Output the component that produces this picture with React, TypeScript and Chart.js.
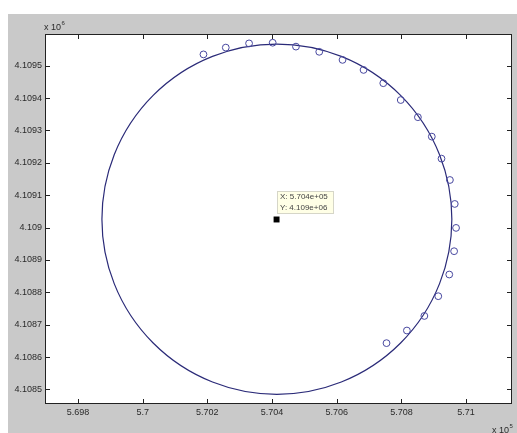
import React, { useEffect, useRef } from 'react';
import { Chart, registerables } from 'chart.js';

Chart.register(...registerables);

// Measured points (open circles)
const pointX = [570188, 570257, 570329, 570402, 570474, 570546, 570618, 570683, 570744, 570798, 570851, 570894, 570924, 570950, 570965, 570969, 570963, 570948, 570914, 570871, 570817, 570754];
const pointY = [4109535, 4109556, 4109569, 4109571, 4109559, 4109543, 4109518, 4109487, 4109446, 4109394, 4109341, 4109281, 4109213, 4109147, 4109073, 4108999, 4108927, 4108855, 4108788, 4108727, 4108682, 4108643];

// Fitted circle
const fitCenter = [570415, 4109026];
const fitRadius = 541;

// Data cursor
const cursorPoint = [570414, 4109025];
const cursorLabels = ['X: 5.704e+05', 'Y: 4.109e+06'];

// Axes
const xRange = [569698, 571142];
const yRange = [4108455, 4109598];
const xStep = 200;
const yStep = 100;
const xScaleFactor = 1e5;
const yScaleFactor = 1e6;
const xExponentLabel = ['x 10', '5'];
const yExponentLabel = ['x 10', '6'];

const FONT = "'Liberation Sans', Arial, sans-serif";
const TEXT = '#2a2a2a';

const matlabPlugin = {
  id: 'matlabLook',
  beforeDraw(chart: any) {
    const { ctx, width, height, chartArea: a } = chart;
    ctx.save();
    ctx.fillStyle = '#ffffff';
    ctx.fillRect(0, 0, width, height);
    ctx.fillStyle = '#c9c9c9';
    ctx.fillRect(8, 14, width - 8, height - 14);
    ctx.fillStyle = '#ffffff';
    ctx.fillRect(a.left, a.top, a.right - a.left, a.bottom - a.top);
    ctx.restore();
  },
  beforeDatasetsDraw(chart: any) {
    const { ctx, chartArea: a } = chart;
    const xs = chart.scales.x;
    const ys = chart.scales.y;
    const cx = xs.getPixelForValue(fitCenter[0]);
    const cy = ys.getPixelForValue(fitCenter[1]);
    const rx = Math.abs(xs.getPixelForValue(fitCenter[0] + fitRadius) - cx);
    const ry = Math.abs(ys.getPixelForValue(fitCenter[1] + fitRadius) - cy);
    ctx.save();
    ctx.beginPath();
    ctx.rect(a.left, a.top, a.right - a.left, a.bottom - a.top);
    ctx.clip();
    ctx.beginPath();
    ctx.ellipse(cx, cy, rx, ry, 0, 0, Math.PI * 2);
    ctx.strokeStyle = '#2a2a78';
    ctx.lineWidth = 1.2;
    ctx.stroke();
    ctx.restore();
  },
  afterDraw(chart: any) {
    const { ctx, chartArea: a } = chart;
    const xs = chart.scales.x;
    const ys = chart.scales.y;
    ctx.save();
    // box
    ctx.strokeStyle = '#222';
    ctx.lineWidth = 1;
    ctx.strokeRect(Math.round(a.left) + 0.5, Math.round(a.top) + 0.5, Math.round(a.right - a.left) - 1, Math.round(a.bottom - a.top) - 1);
    // inward ticks
    const tl = 5;
    ctx.beginPath();
    xs.ticks.forEach((t: any) => {
      const px = Math.round(xs.getPixelForValue(t.value)) + 0.5;
      ctx.moveTo(px, a.bottom);
      ctx.lineTo(px, a.bottom - tl);
      ctx.moveTo(px, a.top);
      ctx.lineTo(px, a.top + tl);
    });
    ys.ticks.forEach((t: any) => {
      const py = Math.round(ys.getPixelForValue(t.value)) + 0.5;
      ctx.moveTo(a.left, py);
      ctx.lineTo(a.left + tl, py);
      ctx.moveTo(a.right, py);
      ctx.lineTo(a.right - tl, py);
    });
    ctx.stroke();

    // exponent labels
    ctx.fillStyle = TEXT;
    ctx.textBaseline = 'alphabetic';
    ctx.textAlign = 'left';
    ctx.font = `9px ${FONT}`;
    const yx = a.left - 1;
    const yy = a.top - 4;
    ctx.fillText(yExponentLabel[0], yx, yy);
    const w1 = ctx.measureText(yExponentLabel[0]).width;
    ctx.font = `6px ${FONT}`;
    ctx.fillText(yExponentLabel[1], yx + w1 + 0.5, yy - 5);

    ctx.font = `9px ${FONT}`;
    const xx = a.right - 20;
    const xy = a.bottom + 29;
    ctx.fillText(xExponentLabel[0], xx, xy);
    const w2 = ctx.measureText(xExponentLabel[0]).width;
    ctx.font = `6px ${FONT}`;
    ctx.fillText(xExponentLabel[1], xx + w2 + 0.5, xy - 5);

    // data cursor label box
    const px = xs.getPixelForValue(cursorPoint[0]);
    const py = ys.getPixelForValue(cursorPoint[1]);
    const bx = Math.round(px) + 0.5;
    const by = Math.round(py - 28) + 0.5;
    const bw = 56;
    const bh = 22;
    ctx.fillStyle = '#ffffe6';
    ctx.fillRect(bx, by, bw, bh);
    ctx.strokeStyle = '#d6d6c8';
    ctx.strokeRect(bx, by, bw, bh);
    ctx.fillStyle = '#444';
    ctx.font = `8px ${FONT}`;
    ctx.textBaseline = 'middle';
    ctx.fillText(cursorLabels[0], bx + 2.5, by + 5.5);
    ctx.fillText(cursorLabels[1], bx + 2.5, by + 16);
    ctx.restore();
  },
};

export default function App() {
  const ref = useRef<HTMLCanvasElement | null>(null);
  useEffect(() => {
    document.body.style.margin = '0';
    const canvas = ref.current;
    if (!canvas) return;
    const chart = new Chart(canvas, {
      type: 'scatter',
      data: {
        datasets: [
          {
            label: 'points',
            data: pointX.map((x, i) => ({ x, y: pointY[i] })),
            pointStyle: 'circle',
            pointRadius: 3.4,
            pointBackgroundColor: 'rgba(0,0,0,0)',
            pointBorderColor: '#4848a0',
            pointBorderWidth: 1,
            showLine: false,
          },
          {
            label: 'cursor',
            data: [{ x: cursorPoint[0], y: cursorPoint[1] }],
            pointStyle: 'rect',
            pointRadius: 4.2,
            pointBackgroundColor: '#000',
            pointBorderColor: '#000',
            pointBorderWidth: 0,
            showLine: false,
          },
        ],
      },
      options: {
        animation: false,
        responsive: false,
        events: [],
        layout: { padding: { top: 34, right: 5, left: 0, bottom: 0 } },
        plugins: { legend: { display: false }, tooltip: { enabled: false } },
        scales: {
          x: {
            type: 'linear',
            min: xRange[0],
            max: xRange[1],
            grid: { display: false, drawTicks: false },
            border: { display: false },
            ticks: {
              stepSize: xStep,
              includeBounds: false,
              padding: 3,
              color: TEXT,
              font: { size: 9, family: FONT },
              maxRotation: 0,
              autoSkip: false,
              callback: (v: any) => String(parseFloat((Number(v) / xScaleFactor).toFixed(3))),
            },
            afterFit: (s: any) => {
              s.height = 29;
            },
          },
          y: {
            type: 'linear',
            min: yRange[0],
            max: yRange[1],
            grid: { display: false, drawTicks: false },
            border: { display: false },
            ticks: {
              stepSize: yStep,
              includeBounds: false,
              padding: 3,
              color: TEXT,
              font: { size: 9, family: FONT },
              autoSkip: false,
              callback: (v: any) => String(parseFloat((Number(v) / yScaleFactor).toFixed(4))),
            },
            afterFit: (s: any) => {
              s.width = 45;
            },
          },
        },
      },
      plugins: [matlabPlugin],
    });
    return () => chart.destroy();
  }, []);
  return (
    <div style={{ width: 517, height: 433 }}>
      <canvas ref={ref} width={517} height={433} style={{ display: 'block', width: 517, height: 433 }} />
    </div>
  );
}
